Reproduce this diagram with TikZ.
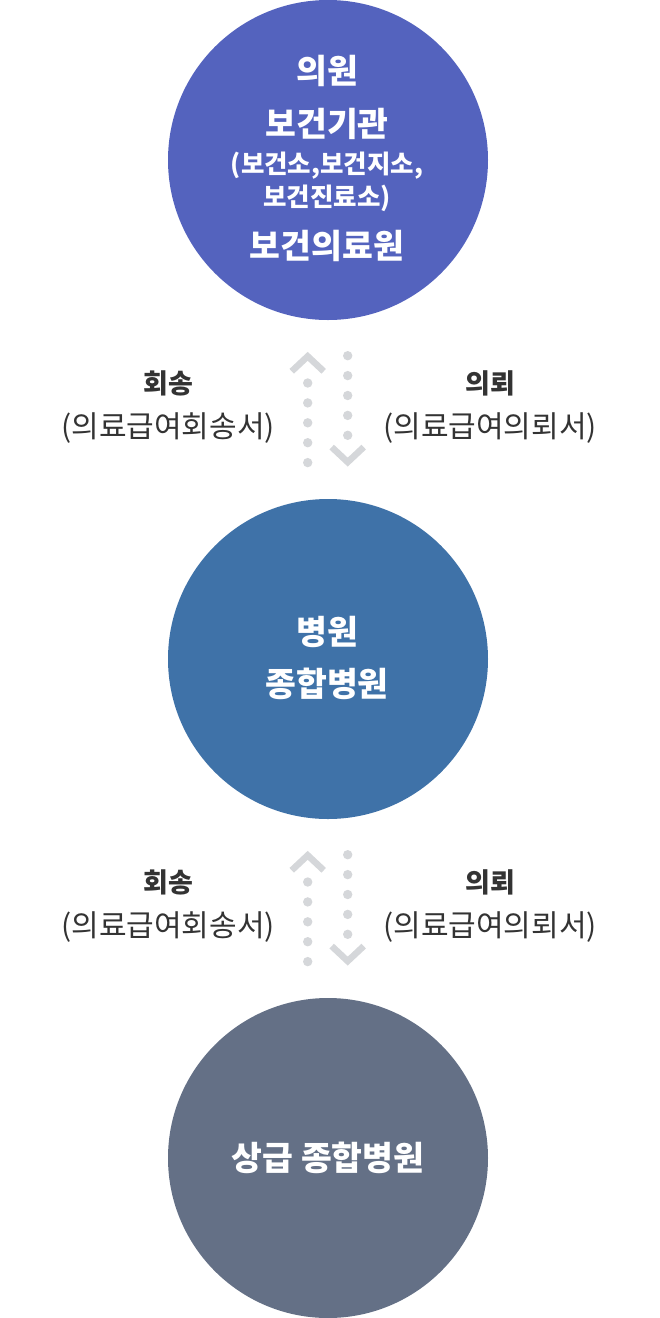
\documentclass[tikz,border=0pt]{standalone}
\usepackage{fontspec}
\newfontfamily\krfont{Noto Sans CJK KR}
\usepackage{tikz}
\usetikzlibrary{positioning}

\definecolor{clinicblue}{HTML}{5463BE}
\definecolor{hospblue}{HTML}{3F72A8}
\definecolor{topgray}{HTML}{647086}
\definecolor{trailgray}{HTML}{D5D7DA}
\definecolor{labelgray}{HTML}{333333}

\begin{document}
\begin{tikzpicture}[x=1pt, y=-1pt,
    hub/.style={circle, minimum size=320pt, inner sep=0pt},
    hubtext/.style={text=white, font=\krfont\bfseries\fontsize{33.5}{38}\selectfont},
    subtext/.style={text=white, font=\krfont\bfseries\fontsize{25.5}{30}\selectfont},
    tag/.style={text=labelgray, font=\krfont\bfseries\fontsize{27}{32}\selectfont},
    doc/.style={text=labelgray, font=\krfont\fontsize{30}{34}\selectfont},
    trail/.style={draw=trailgray, line width=9.4pt, line cap=round, dash pattern=on 0pt off 19.9pt},
    chev/.style={draw=trailgray, line width=6.5pt}]
    \useasboundingbox (0,0) rectangle (660,1318);

    % 세 단계 원
    \node[hub, fill=clinicblue] (clinic) at (328,160) {};
    \node[hub, fill=hospblue] (hosp) at (328,659) {};
    \node[hub, fill=topgray] (tertiary) at (328,1158) {};

    % 1단계 글자
    \node[hubtext] (clinic1) at (327,71) {의원};
    \node[hubtext] (clinic2) at (327,124) {보건기관};
    \node[subtext] (clinic3) at (327,166) {(보건소,보건지소,};
    \node[subtext] (clinic4) at (327,198) {보건진료소)};
    \node[hubtext] (clinic5) at (327,246) {보건의료원};

    % 2단계, 3단계 글자
    \node[hubtext] (hosp1) at (327,632) {병원};
    \node[hubtext] (hosp2) at (327,684) {종합병원};
    \node[hubtext] (tertiary1) at (328,1158) {상급 종합병원};

    % 회송 / 의뢰 화살표 (점선 + 꺾쇠)
    \foreach \k/\dy in {1/0, 2/499} {
        \coordinate (ret\k s) at (307.7,383+\dy);
        \coordinate (ret\k e) at (307.7,463.5+\dy);
        \coordinate (ret\k tip) at (307.7,356.3+\dy);
        \coordinate (ref\k s) at (347.7,355.7+\dy);
        \coordinate (ref\k e) at (347.7,436+\dy);
        \coordinate (ref\k tip) at (347.7,462.1+\dy);
        \draw[trail] (ret\k s) -- (ret\k e);
        \draw[trail] (ref\k s) -- (ref\k e);
        \draw[chev] (ret\k tip) ++(-16,15) -- (ret\k tip) -- ++(16,15);
        \draw[chev] (ref\k tip) ++(-16,-15) -- (ref\k tip) -- ++(16,-15);
        \node[tag] (rettag\k) at (168,383+\dy) {회송};
        \node[doc] (retdoc\k) at (168,428+\dy) {(의료급여회송서)};
        \node[tag] (reftag\k) at (490,383+\dy) {의뢰};
        \node[doc] (refdoc\k) at (490,428+\dy) {(의료급여의뢰서)};
    }
\end{tikzpicture}
\end{document}
